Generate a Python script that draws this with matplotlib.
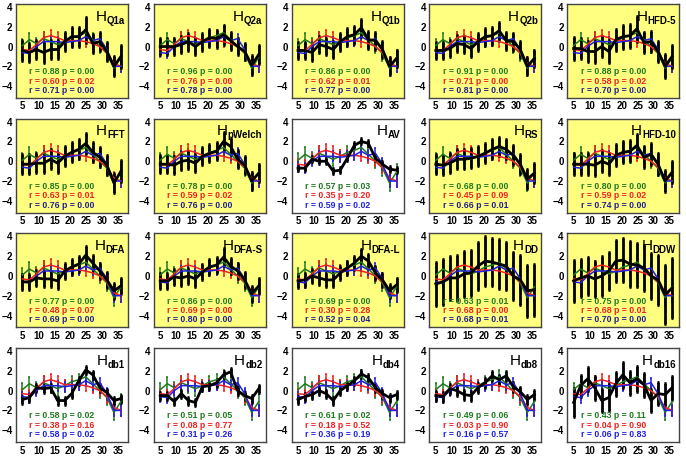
import matplotlib
matplotlib.use('Agg')
import matplotlib.pyplot as plt

plt.rcParams['font.family'] = ['Liberation Sans', 'DejaVu Sans']
plt.rcParams['font.weight'] = 'bold'

# ages (x positions of the points)
ages = [5, 7.2, 9.4, 11.6, 13.8, 16, 18.2, 20.4, 22.6, 24.8, 27, 29.2, 31.4, 33.6, 35.8]

# reference series, identical in every panel
green = [0.1, 0.7, 0.3, 0.8, 0.5, 0.2, 0.5, 0.9, 1.1, 1.4, 0.7, 0.0, -0.7, -2.2, -1.1]
green_err = [0.7, 0.7, 0.6, 0.7, 0.7, 0.7, 0.6, 0.6, 0.6, 0.7, 0.7, 0.7, 0.8, 0.8, 0.8]
red = [-0.3, -0.4, 0.2, 0.9, 1.1, 0.9, 0.6, 0.6, 0.6, 0.5, 0.3, 0.0, -0.6, -1.7, -2.0]
red_err = [0.5, 0.5, 0.5, 0.6, 0.6, 0.6, 0.5, 0.5, 0.5, 0.5, 0.5, 0.5, 0.6, 0.6, 0.6]
blue = [-0.6, -0.7, 0.0, 0.5, 0.5, 0.5, 0.4, 0.5, 0.6, 1.0, 0.6, 0.8, -0.3, -2.0, -2.0]
blue_err = [0.5, 0.5, 0.5, 0.5, 0.5, 0.5, 0.5, 0.5, 0.5, 0.5, 0.5, 0.5, 0.6, 0.6, 0.6]

names = ['Q1a', 'Q2a', 'Q1b', 'Q2b', 'HFD-5',
         'FFT', 'pWelch', 'AV', 'RS', 'HFD-10',
         'DFA', 'DFA-S', 'DFA-L', 'DD', 'DDW',
         'db1', 'db2', 'db4', 'db8', 'db16']

white_panels = ['AV', 'db1', 'db2', 'db4', 'db8', 'db16']

black = [
    [-0.4, -0.6, -0.3, -0.6, -0.3, -0.3, 0.5, 1.0, 1.0, 1.7, 0.3, 0.5, -0.5, -2.0, -1.0],
    [0.0, 0.0, 0.0, 0.2, 0.5, 0.0, 0.5, 0.9, 0.8, 1.2, 0.6, 0.0, -0.5, -1.9, -0.8],
    [-0.4, -0.4, -0.6, 0.2, 0.0, -0.3, 0.5, 1.0, 1.2, 1.9, 0.7, 0.6, -0.3, -2.0, -1.2],
    [-0.4, -0.4, -0.2, 0.3, 0.2, -0.2, 0.5, 1.0, 1.1, 1.6, 0.6, 0.5, -0.3, -2.0, -1.2],
    [-0.2, -0.2, -0.5, -0.5, 0.0, -0.5, 0.7, 1.0, 1.1, 1.8, 0.4, 0.5, -0.5, -2.0, -1.0],
    [-0.3, -0.3, -0.2, -0.2, 0.2, -0.2, 0.5, 0.9, 1.2, 1.8, 0.9, 0.4, -0.4, -2.2, -1.0],
    [-0.3, -0.3, -0.4, 0.0, 0.1, -0.2, 0.5, 0.8, 1.0, 2.0, 1.5, 0.2, -0.4, -2.0, -1.2],
    [-0.7, -0.7, 0.2, 0.0, 0.0, -1.0, -0.9, 0.3, 1.6, 2.0, 1.8, 0.3, -0.3, -0.8, -0.9],
    [-0.3, -0.4, -0.2, 0.2, 0.2, 0.3, 0.5, 0.8, 1.2, 1.5, 1.2, 0.6, -0.3, -1.8, -1.2],
    [-0.3, -0.3, -0.3, -0.4, 0.0, -0.3, 0.6, 0.9, 1.0, 1.6, 0.4, 0.7, -0.3, -2.0, -1.1],
    [-0.6, -0.6, -0.2, -0.3, -0.3, -0.5, 0.5, 0.9, 1.2, 2.1, 1.3, 0.5, -0.4, -1.5, -1.0],
    [-0.5, -0.5, -0.1, -0.2, 0.0, -0.3, 0.4, 0.9, 1.1, 1.9, 1.0, 0.5, -0.4, -1.8, -1.0],
    [-0.5, -0.4, 0.0, -0.2, -0.4, -0.4, 0.3, 0.8, 1.3, 2.0, 1.5, 0.3, -0.4, -1.5, -0.9],
    [-0.8, -0.6, -0.2, -0.2, 0.2, 0.3, 1.0, 1.5, 1.4, 1.2, 1.0, 0.0, -0.4, -1.5, -1.4],
    [-0.5, -0.2, 0.0, -0.3, 0.0, 0.5, 1.5, 1.6, 1.2, 1.1, 0.8, 0.0, -0.4, -1.9, -1.2],
    [-0.9, -0.7, 0.3, 0.2, 0.3, -1.0, -1.0, -0.3, 1.0, 2.1, 1.6, 0.3, -0.2, -1.0, -0.8],
    [-0.5, -0.5, -1.1, -0.3, -1.0, -1.2, 0.4, 0.5, 0.8, 1.6, 1.9, 0.0, -0.5, -0.8, 0.2],
    [-0.9, -0.6, -0.4, 0.0, -0.3, -1.0, 0.0, 0.5, 1.0, 1.7, 1.3, 0.3, -0.3, -0.7, -0.4],
    [-0.5, -0.6, 0.2, 0.0, -0.4, -0.5, 0.3, 0.8, 1.5, 1.1, 1.5, 0.4, -0.1, -0.9, -0.4],
    [-1.2, 0.5, 1.2, 0.3, -1.0, -0.7, 0.7, 1.6, 0.8, 1.2, 0.6, -1.0, -0.3, -0.4, 0.3],
]

black_err = [
    [1.1, 1.0, 1.0, 1.1, 1.0, 1.0, 1.0, 1.0, 1.0, 1.3, 1.0, 1.0, 1.0, 1.0, 1.2],
    [0.9, 0.9, 0.9, 0.9, 0.9, 0.9, 0.9, 0.9, 0.9, 1.0, 0.9, 0.9, 0.9, 1.0, 1.0],
    [0.9, 0.9, 0.9, 0.9, 0.9, 0.9, 0.9, 0.9, 0.9, 0.9, 0.9, 0.9, 0.9, 0.9, 0.9],
    [0.9, 0.9, 0.9, 0.9, 0.9, 0.9, 0.9, 0.9, 0.9, 0.9, 0.9, 0.9, 0.9, 0.9, 0.9],
    [1.2, 1.1, 1.1, 1.2, 1.1, 1.2, 1.1, 1.2, 1.2, 1.3, 1.1, 1.1, 1.1, 1.2, 1.2],
    [1.0, 1.0, 1.0, 1.0, 1.0, 1.0, 1.0, 1.0, 1.0, 1.1, 1.0, 1.0, 1.0, 1.0, 1.1],
    [0.9, 0.9, 0.9, 0.9, 0.9, 0.9, 0.9, 0.9, 0.9, 1.0, 0.9, 0.9, 0.9, 0.9, 0.9],
    [0.3, 0.3, 0.3, 0.3, 0.3, 0.3, 0.3, 0.3, 0.3, 0.3, 0.3, 0.3, 0.3, 0.3, 0.3],
    [1.0, 1.0, 1.0, 1.0, 1.0, 1.0, 1.0, 1.0, 1.0, 1.0, 1.0, 1.0, 1.0, 1.0, 1.0],
    [1.1, 1.1, 1.1, 1.1, 1.1, 1.1, 1.1, 1.1, 1.1, 1.2, 1.1, 1.1, 1.1, 1.1, 1.1],
    [0.8, 0.8, 0.8, 0.8, 0.8, 0.8, 0.8, 0.8, 0.8, 0.9, 0.8, 0.8, 0.8, 0.8, 0.8],
    [0.8, 0.8, 0.8, 0.8, 0.8, 0.8, 0.8, 0.8, 0.8, 0.9, 0.8, 0.8, 0.8, 0.8, 0.8],
    [0.7, 0.7, 0.7, 0.7, 0.7, 0.7, 0.7, 0.7, 0.7, 0.7, 0.7, 0.7, 0.7, 0.7, 0.7],
    [2.2, 2.3, 2.2, 2.3, 2.3, 2.3, 2.4, 2.5, 2.4, 2.5, 2.4, 2.4, 2.5, 2.6, 2.6],
    [2.1, 1.9, 1.9, 1.8, 2.0, 1.9, 2.1, 2.2, 2.3, 2.2, 2.3, 2.3, 2.5, 3.0, 3.0],
    [0.4, 0.4, 0.4, 0.4, 0.4, 0.4, 0.4, 0.4, 0.4, 0.4, 0.4, 0.4, 0.4, 0.4, 0.4],
    [0.4, 0.4, 0.4, 0.4, 0.4, 0.4, 0.4, 0.4, 0.4, 0.4, 0.4, 0.4, 0.4, 0.4, 0.4],
    [0.4, 0.4, 0.4, 0.4, 0.4, 0.4, 0.4, 0.4, 0.4, 0.4, 0.4, 0.4, 0.4, 0.4, 0.4],
    [0.5, 0.5, 0.5, 0.5, 0.5, 0.5, 0.5, 0.5, 0.5, 0.5, 0.5, 0.5, 0.5, 0.5, 0.5],
    [1.5, 1.1, 1.2, 1.2, 1.2, 1.4, 1.2, 1.3, 1.2, 1.3, 1.2, 1.2, 1.2, 1.2, 1.2],
]

r_green = ['0.88', '0.96', '0.86', '0.91', '0.88', '0.85', '0.78', '0.57', '0.68', '0.80',
           '0.77', '0.86', '0.69', '0.63', '0.75', '0.58', '0.51', '0.61', '0.49', '0.43']
p_green = ['0.00', '0.00', '0.00', '0.00', '0.00', '0.00', '0.00', '0.03', '0.00', '0.00',
           '0.00', '0.00', '0.00', '0.01', '0.00', '0.02', '0.05', '0.02', '0.06', '0.11']
r_red = ['0.60', '0.76', '0.62', '0.71', '0.58', '0.63', '0.59', '0.35', '0.45', '0.59',
         '0.48', '0.69', '0.30', '0.68', '0.68', '0.38', '0.08', '0.18', '0.03', '0.04']
p_red = ['0.02', '0.00', '0.01', '0.00', '0.02', '0.01', '0.02', '0.20', '0.09', '0.02',
         '0.07', '0.00', '0.28', '0.00', '0.01', '0.16', '0.77', '0.52', '0.90', '0.90']
r_blue = ['0.71', '0.78', '0.77', '0.81', '0.70', '0.76', '0.76', '0.59', '0.66', '0.74',
          '0.69', '0.80', '0.52', '0.68', '0.70', '0.58', '0.31', '0.36', '0.16', '0.06']
p_blue = ['0.00', '0.00', '0.00', '0.00', '0.00', '0.00', '0.00', '0.02', '0.01', '0.00',
          '0.00', '0.00', '0.04', '0.01', '0.00', '0.02', '0.26', '0.19', '0.57', '0.83']

GREEN = '#1f7a1f'
RED = '#f02020'
BLUE = '#2020e0'

W, H = 686, 463
fig = plt.figure(figsize=(W / 100, H / 100), dpi=100)

for i, name in enumerate(names):
    row, col = divmod(i, 5)
    left = 16 + 137.8 * col
    top = 4 + 114.7 * row
    ax = fig.add_axes([left / W, 1 - (top + 94) / H, 112 / W, 94 / H])

    white = name in white_panels
    ax.set_facecolor('white' if white else '#ffff80')

    for y, e, c, lw in [(green, green_err, GREEN, 1.1), (red, red_err, RED, 1.1),
                        (blue, blue_err, BLUE, 1.1), (black[i], black_err[i], 'black', 2.0)]:
        ax.errorbar(ages, y, yerr=e, color=c, lw=lw, elinewidth=lw,
                    capsize=1.0, capthick=lw)

    ax.set_xlim(3, 38)
    ax.set_ylim(-5.2, 4.3)
    ax.set_xticks([5, 10, 15, 20, 25, 30, 35])
    ax.set_yticks([-4, -2, 0, 2, 4])
    ax.tick_params(labelsize=7, length=0, pad=2.5)
    for s in ax.spines.values():
        s.set_color('#444444')
        s.set_linewidth(1.0)

    sub = ax.text(0.97, 0.79, name, transform=ax.transAxes, ha='right',
                  va='baseline', fontsize=7, weight='bold')
    ax.annotate('H', xy=(0, 0), xycoords=sub, ha='right', va='bottom',
                xytext=(0, 1.5), textcoords='offset points',
                fontsize=11, weight='normal')

    text_blue = BLUE if white else '#202090'
    ax.text(0.12, 0.28, f'r = {r_green[i]} p = {p_green[i]}', transform=ax.transAxes,
            color=GREEN, fontsize=6.3, va='center')
    ax.text(0.12, 0.18, f'r = {r_red[i]} p = {p_red[i]}', transform=ax.transAxes,
            color=RED, fontsize=6.3, va='center')
    ax.text(0.12, 0.08, f'r = {r_blue[i]} p = {p_blue[i]}', transform=ax.transAxes,
            color=text_blue, fontsize=6.3, va='center')

fig.savefig('out.png', dpi=100)
